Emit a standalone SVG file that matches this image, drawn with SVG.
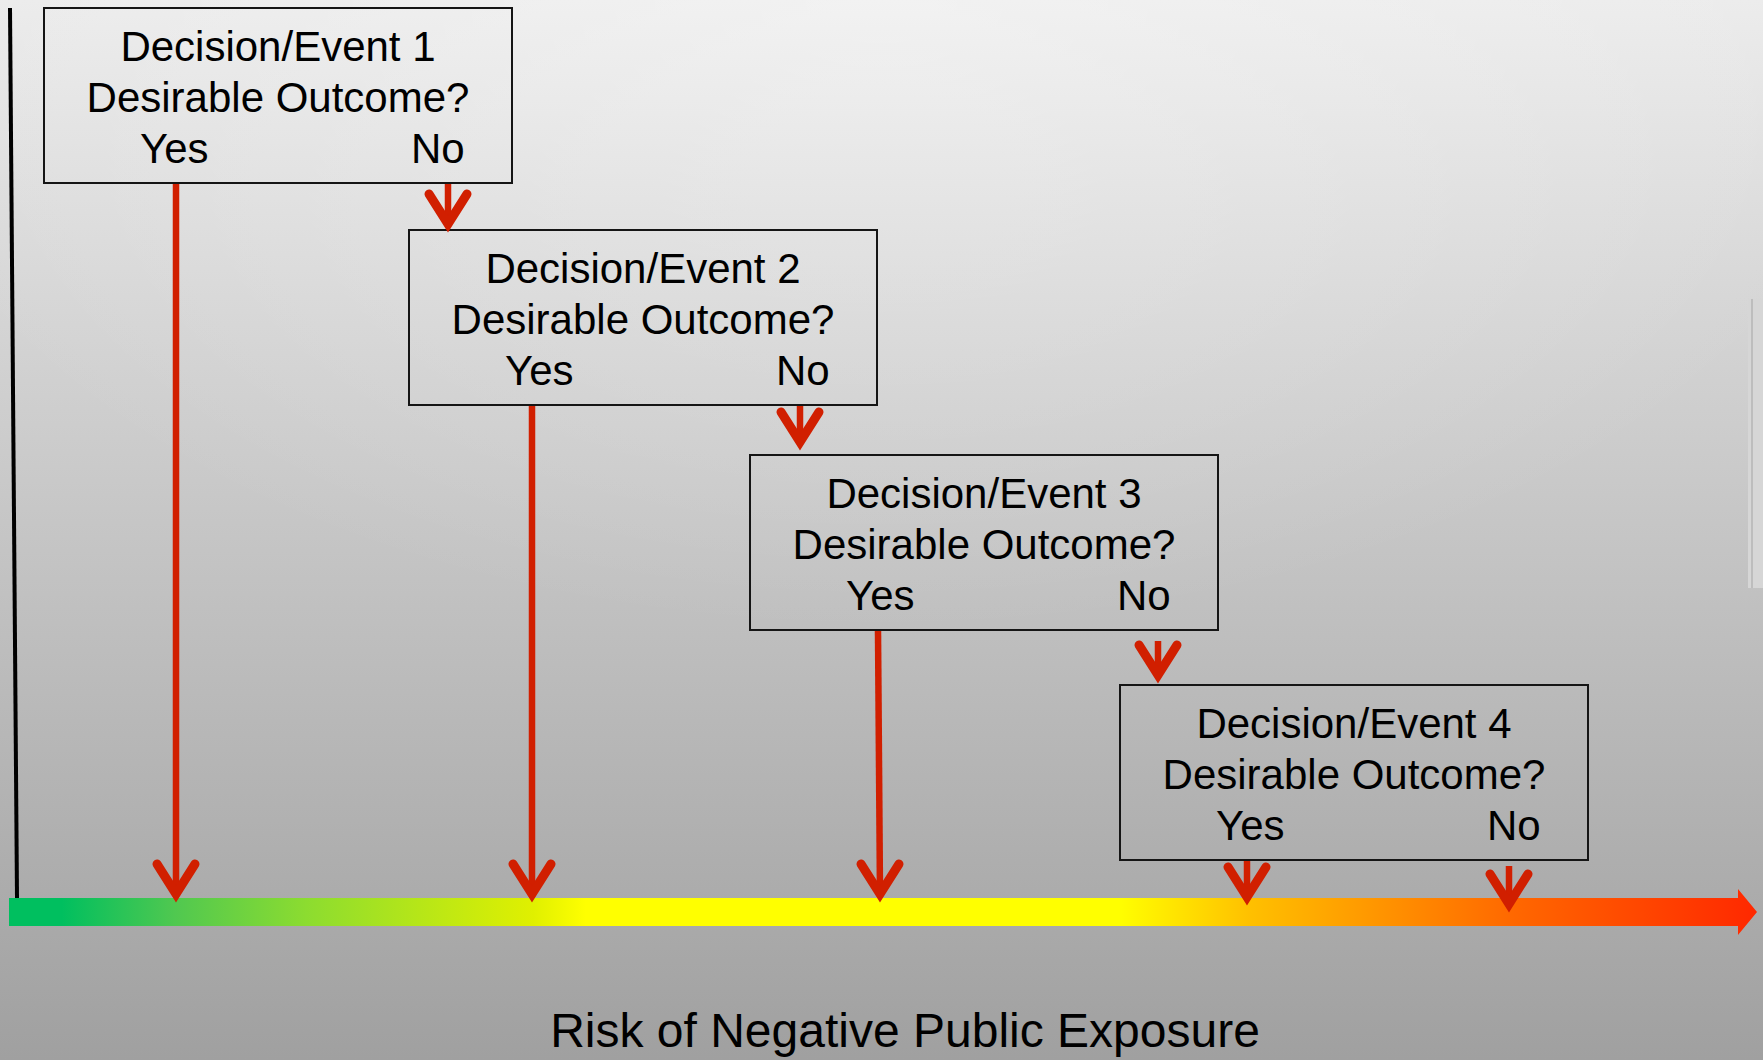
<svg xmlns="http://www.w3.org/2000/svg" width="1763" height="1060" viewBox="0 0 1763 1060">
<style>
.box{fill:none;stroke:#151515;stroke-width:2}
.t{font-family:"Liberation Sans",Arial,Helvetica,sans-serif;font-size:42px;fill:#000}
.c{text-anchor:middle}
.ln{stroke:#d11f00;stroke-width:6.5;fill:none}
.hd{stroke:#d11f00;stroke-width:9;fill:none;stroke-linecap:round;stroke-linejoin:miter}
</style>
<defs>
<linearGradient id="bg" x1="0" y1="0" x2="0" y2="1">
<stop offset="0" stop-color="#ebebeb"/>
<stop offset="1" stop-color="#a0a0a0"/>
</linearGradient>
<radialGradient id="hl" cx="0.5" cy="0" r="0.6">
<stop offset="0" stop-color="#ffffff" stop-opacity="0.35"/>
<stop offset="1" stop-color="#ffffff" stop-opacity="0"/>
</radialGradient>
<linearGradient id="bar" gradientUnits="userSpaceOnUse" x1="9" y1="0" x2="1757" y2="0">
<stop offset="0" stop-color="#00bf5f"/>
<stop offset="0.03" stop-color="#00bf5f"/>
<stop offset="0.095" stop-color="#50c850"/>
<stop offset="0.17" stop-color="#8cdc30"/>
<stop offset="0.30" stop-color="#e0f000"/>
<stop offset="0.33" stop-color="#ffff00"/>
<stop offset="0.635" stop-color="#ffff00"/>
<stop offset="0.71" stop-color="#ffc000"/>
<stop offset="0.86" stop-color="#ff6800"/>
<stop offset="1" stop-color="#ff2800"/>
</linearGradient>
<path id="chev" class="hd" d="M -19,-38 L 0,-8 L 19,-38"/>
</defs>
<rect width="1763" height="1060" fill="url(#bg)"/>
<rect width="1763" height="1060" fill="url(#hl)"/>
<rect x="1748" y="299" width="15" height="289" fill="#d6d6d6"/>
<line x1="1752" y1="299" x2="1752" y2="588" stroke="#b4b4b4" stroke-width="1.5"/>

<line x1="10" y1="8" x2="17" y2="898" stroke="#000" stroke-width="4"/>

<polygon id="axis" points="9,898 1738,898 1738,889 1757,912 1738,935 1738,926 9,926" fill="url(#bar)"/>

<g id="node1">
<rect class="box" x="44" y="8" width="468" height="175"/>
<text class="t c" x="278" y="61">Decision/Event 1</text>
<text class="t c" x="278" y="112">Desirable Outcome?</text>
<text class="t" x="140" y="163">Yes</text>
<text class="t" x="411" y="163">No</text>
</g>
<g id="node2">
<rect class="box" x="409" y="230" width="468" height="175"/>
<text class="t c" x="643" y="283">Decision/Event 2</text>
<text class="t c" x="643" y="334">Desirable Outcome?</text>
<text class="t" x="505" y="385">Yes</text>
<text class="t" x="776" y="385">No</text>
</g>
<g id="node3">
<rect class="box" x="750" y="455" width="468" height="175"/>
<text class="t c" x="984" y="508">Decision/Event 3</text>
<text class="t c" x="984" y="559">Desirable Outcome?</text>
<text class="t" x="846" y="610">Yes</text>
<text class="t" x="1117" y="610">No</text>
</g>
<g id="node4">
<rect class="box" x="1120" y="685" width="468" height="175"/>
<text class="t c" x="1354" y="738">Decision/Event 4</text>
<text class="t c" x="1354" y="789">Desirable Outcome?</text>
<text class="t" x="1216" y="840">Yes</text>
<text class="t" x="1487" y="840">No</text>
</g>

<g id="connectors">
<line class="ln" x1="176" y1="184" x2="176" y2="895"/>
<use href="#chev" transform="translate(176,902)"/>
<line class="ln" x1="532" y1="406" x2="532" y2="895"/>
<use href="#chev" transform="translate(532,902)"/>
<line class="ln" x1="878" y1="631" x2="880" y2="895"/>
<use href="#chev" transform="translate(880,902)"/>
<line class="ln" x1="1247" y1="861" x2="1247" y2="898"/>
<use href="#chev" transform="translate(1247,905)"/>
<line class="ln" x1="1509" y1="866" x2="1509" y2="905"/>
<use href="#chev" transform="translate(1509,912)"/>

<line class="ln" x1="448" y1="184" x2="448" y2="225"/>
<use href="#chev" transform="translate(448,232)"/>
<line class="ln" x1="800" y1="406" x2="800" y2="443"/>
<use href="#chev" transform="translate(800,450)"/>
<line class="ln" x1="1158" y1="641" x2="1158" y2="676"/>
<use href="#chev" transform="translate(1158,683)"/>
</g>

<text class="t c" x="905" y="1047" style="font-size:48px">Risk of Negative Public Exposure</text>
</svg>
